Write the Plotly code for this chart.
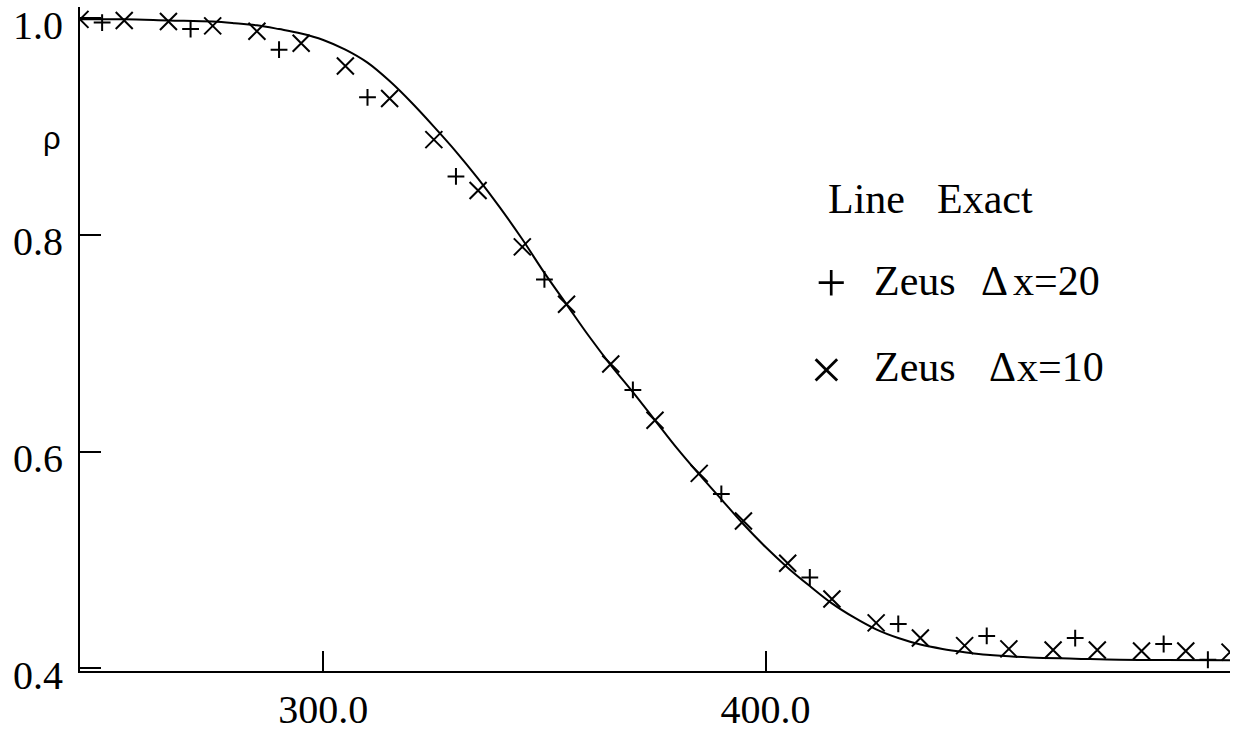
import plotly.graph_objects as go

# ---- data ----
exact_x = [245, 255, 265, 275, 280, 285, 290, 295, 300, 305, 310, 315, 320, 325, 330,
           335, 340, 345, 350, 355, 360, 365, 370, 375, 380, 385, 390, 395, 400, 405,
           410, 415, 420, 425, 430, 435, 440, 445, 450, 460, 470, 480, 490, 505]
exact_rho = [0.999, 0.999, 0.998, 0.997, 0.9955, 0.9935, 0.990, 0.986, 0.980, 0.971,
             0.959, 0.942, 0.922, 0.900, 0.877, 0.852, 0.825, 0.796, 0.765, 0.736,
             0.707, 0.680, 0.655, 0.629, 0.603, 0.579, 0.556, 0.533, 0.512, 0.493,
             0.476, 0.460, 0.447, 0.436, 0.428, 0.422, 0.418, 0.415, 0.4125, 0.410,
             0.409, 0.408, 0.4078, 0.4075]

zeus10_x = [245, 255, 265, 275, 285, 295, 305, 315, 325, 335, 345, 355, 365, 375,
            385, 395, 405, 415, 425, 435, 445, 455, 465, 475, 485, 495, 505]
zeus10_rho = [0.999, 0.998, 0.997, 0.993, 0.988, 0.977, 0.956, 0.926, 0.888, 0.841,
              0.789, 0.736, 0.681, 0.629, 0.580, 0.536, 0.497, 0.464, 0.442, 0.428,
              0.421, 0.418, 0.417, 0.417, 0.416, 0.416, 0.415]

zeus20_x = [250, 270, 290, 310, 330, 350, 370, 390, 410, 430, 450, 470, 490, 500]
zeus20_rho = [0.996, 0.990, 0.971, 0.927, 0.854, 0.759, 0.657, 0.561, 0.484, 0.441,
              0.430, 0.428, 0.4225, 0.408]

x_tickvals = [300, 400]
x_ticktext = ["300.0", "400.0"]
y_tickvals = [0.4, 0.6, 0.8, 1.0]
y_ticktext = ["0.4", "0.6", "0.8", "1.0"]

# ---- figure ----
W, H = 1233, 733
ML, MR, MT, MB = 80, 3, 7, 62
serif = "Liberation Serif, Times New Roman, serif"

fig = go.Figure()
fig.add_trace(go.Scatter(x=exact_x, y=exact_rho, mode="lines",
                         line=dict(color="black", width=2, shape="spline", smoothing=1.0),
                         name="Exact"))
fig.add_trace(go.Scatter(x=zeus20_x, y=zeus20_rho, mode="markers",
                         marker=dict(symbol="cross-thin", size=12,
                                     line=dict(color="black", width=2)),
                         name="Zeus dx=20"))
fig.add_trace(go.Scatter(x=zeus10_x, y=zeus10_rho, mode="markers",
                         marker=dict(symbol="x-thin", size=17,
                                     line=dict(color="black", width=2)),
                         name="Zeus dx=10"))

fig.update_xaxes(range=[245, 505], showline=True, linecolor="black", linewidth=2,
                 showgrid=False, zeroline=False, ticks="inside", ticklen=20,
                 tickwidth=2, tickcolor="black", tickvals=x_tickvals,
                 ticktext=x_ticktext, ticklabelstandoff=2, automargin=False,
                 ticklabeloverflow="allow",
                 tickfont=dict(family=serif, size=40, color="black"))
fig.update_yaxes(range=[0.3976, 1.0104], showline=True, linecolor="black", linewidth=2,
                 showgrid=False, zeroline=False, ticks="inside", ticklen=21,
                 tickwidth=2, tickcolor="black", tickvals=y_tickvals,
                 showticklabels=False, automargin=False)

# y tick labels, placed slightly below their ticks as in the reference
for v, t in zip(y_tickvals, y_ticktext):
    fig.add_annotation(text=t, x=0, y=v, xref="paper", yref="y",
                       xanchor="right", yanchor="middle", xshift=-15, yshift=-7,
                       showarrow=False,
                       font=dict(family=serif, size=40, color="black"))

pw = W - ML - MR
ph = H - MT - MB


def px(xp):
    return (xp - ML) / pw


def py(yp):
    return (H - MB - yp) / ph


def ann(text, xp, yp, size=42, family=serif, xanchor="left"):
    fig.add_annotation(text=text, x=px(xp), y=py(yp), xref="paper", yref="paper",
                       xanchor=xanchor, yanchor="middle", showarrow=False,
                       font=dict(family=family, size=size, color="black"))


ann("Line", 826, 199)
ann("Exact", 935, 199)
ann("+", 831, 283, size=54, xanchor="center")
ann("Zeus", 872, 281)
ann("Δ", 979, 281)
ann("x=20", 1011, 281)
ann("×", 826, 369, size=58, xanchor="center")
ann("Zeus", 872, 367)
ann("Δ", 987, 367)
ann("x=10", 1015, 367)

fig.add_annotation(text="ρ", x=px(52), y=py(138), xref="paper", yref="paper",
                   xanchor="center", yanchor="middle", showarrow=False,
                   font=dict(family="Liberation Sans, Arial, sans-serif", size=31,
                             color="black"))

fig.update_layout(width=W, height=H, margin=dict(l=ML, r=MR, t=MT, b=MB),
                  plot_bgcolor="white", paper_bgcolor="white", showlegend=False)

fig.write_html("out.html", config={"displayModeBar": False},
               post_script="document.body.style.margin='0';")
